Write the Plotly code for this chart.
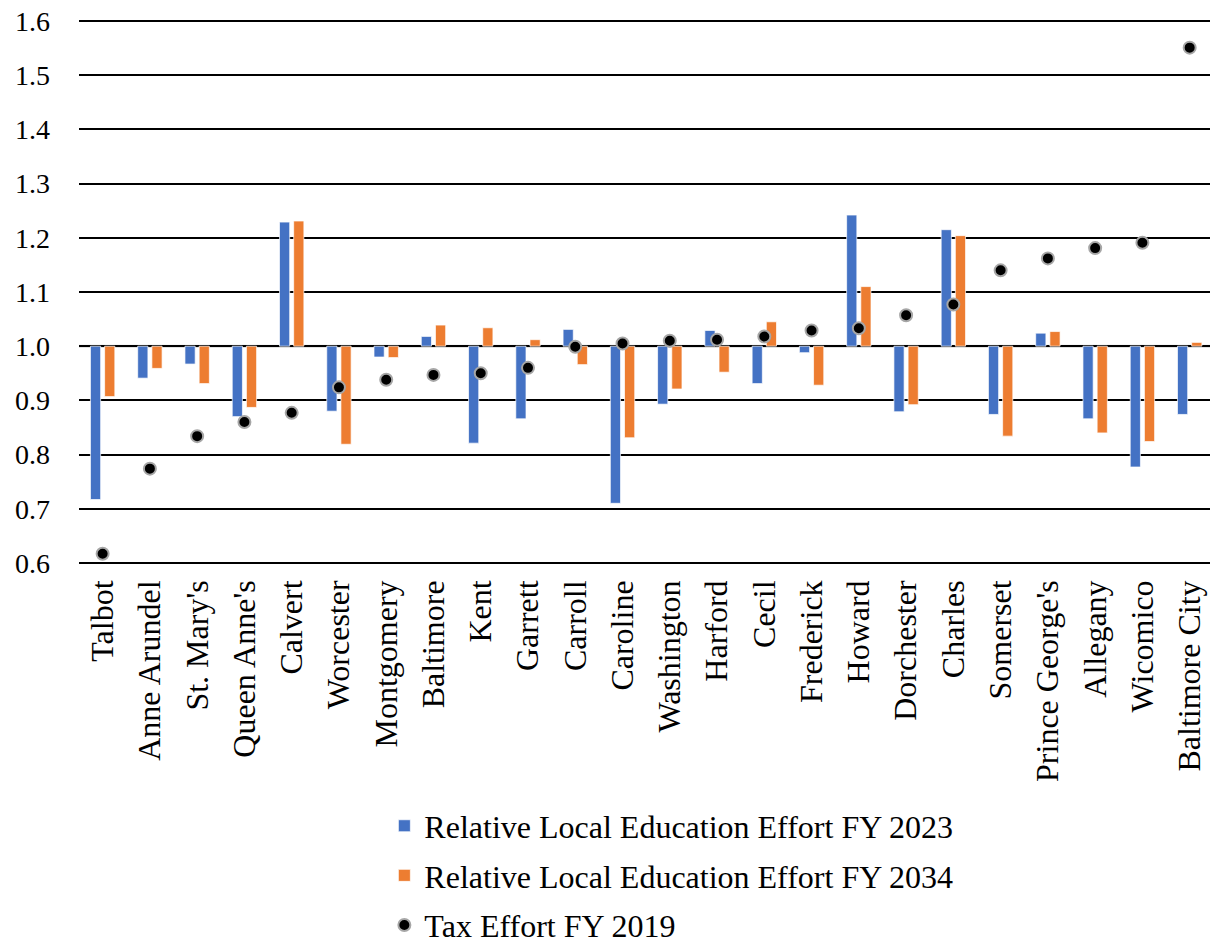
import plotly.graph_objects as go

counties = ["Talbot", "Anne Arundel", "St. Mary's", "Queen Anne's", "Calvert", "Worcester",
            "Montgomery", "Baltimore", "Kent", "Garrett", "Carroll", "Caroline", "Washington",
            "Harford", "Cecil", "Frederick", "Howard", "Dorchester", "Charles", "Somerset",
            "Prince George's", "Allegany", "Wicomico", "Baltimore City"]

effort_2023 = [0.717, 0.941, 0.967, 0.870, 1.229, 0.880, 0.980, 1.018, 0.821, 0.866, 1.031, 0.710,
               0.893, 1.029, 0.931, 0.988, 1.242, 0.879, 1.215, 0.874, 1.024, 0.866, 0.777, 0.874]
effort_2034 = [0.907, 0.959, 0.931, 0.887, 1.231, 0.819, 0.979, 1.039, 1.034, 1.012, 0.966, 0.831,
               0.921, 0.952, 1.045, 0.928, 1.110, 0.892, 1.204, 0.834, 1.027, 0.840, 0.824, 1.007]
tax_2019 = [0.617, 0.774, 0.834, 0.860, 0.877, 0.924, 0.938, 0.947, 0.950, 0.960, 0.999, 1.005,
            1.010, 1.012, 1.018, 1.029, 1.033, 1.057, 1.077, 1.140, 1.162, 1.181, 1.191, 1.551]
y_ticks = [0.6, 0.7, 0.8, 0.9, 1.0, 1.1, 1.2, 1.3, 1.4, 1.5, 1.6]

BASE = 1.0
FONT = "Liberation Serif, Times New Roman, serif"

fig = go.Figure()
fig.add_trace(go.Bar(
    x=counties, y=[v - BASE for v in effort_2023], base=BASE,
    name="Relative Local Education Effort FY 2023", legendgroup="a",
    marker=dict(color="#4472C4", line=dict(color="rgba(255,255,255,0.7)", width=1)),
))
fig.add_trace(go.Bar(
    x=counties, y=[v - BASE for v in effort_2034], base=BASE,
    name="Relative Local Education Effort FY 2034", legendgroup="b",
    marker=dict(color="#ED7D31", line=dict(color="rgba(255,255,255,0.7)", width=1)),
))
fig.add_trace(go.Scatter(
    x=counties, y=tax_2019, mode="markers", name="Tax Effort FY 2019", legendgroup="c",
    marker=dict(color="black", size=12, line=dict(color="#A6A6A6", width=2)),
))

fig.add_shape(type="line", xref="paper", x0=0, x1=1, yref="y", y0=BASE, y1=BASE,
              line=dict(color="#D9D9D9", width=3), layer="below")

fig.update_layout(
    width=1210, height=942,
    margin=dict(l=79, r=0, t=20, b=378, autoexpand=False),
    paper_bgcolor="white", plot_bgcolor="white",
    font=dict(family=FONT, color="black"),
    barmode="group", bargap=0.40, bargroupgap=0.28,
    showlegend=True,
    legend=dict(
        orientation="v", xref="paper", yref="paper",
        x=0.270, xanchor="left", y=-0.431, yanchor="top",
        font=dict(family=FONT, size=32, color="black"),
        traceorder="grouped", tracegroupgap=5,
    ),
)
fig.update_yaxes(
    range=[0.598, 1.602], tickvals=y_ticks, tickformat=".1f",
    showgrid=True, gridcolor="black", gridwidth=2,
    zeroline=False, showline=False, ticks="",
    tickfont=dict(family=FONT, size=28, color="black"),
    ticklabelstandoff=28, ticklabeloverflow="allow",
)
fig.update_xaxes(
    type="category", range=[-0.5, 23.43], tickangle=-90,
    showgrid=False, showline=False, ticks="",
    tickfont=dict(family=FONT, size=32, color="black"),
    ticklabelstandoff=9,
)

fig.write_html("out.html", config={"displayModeBar": False},
               post_script="document.body.style.margin='0';")
